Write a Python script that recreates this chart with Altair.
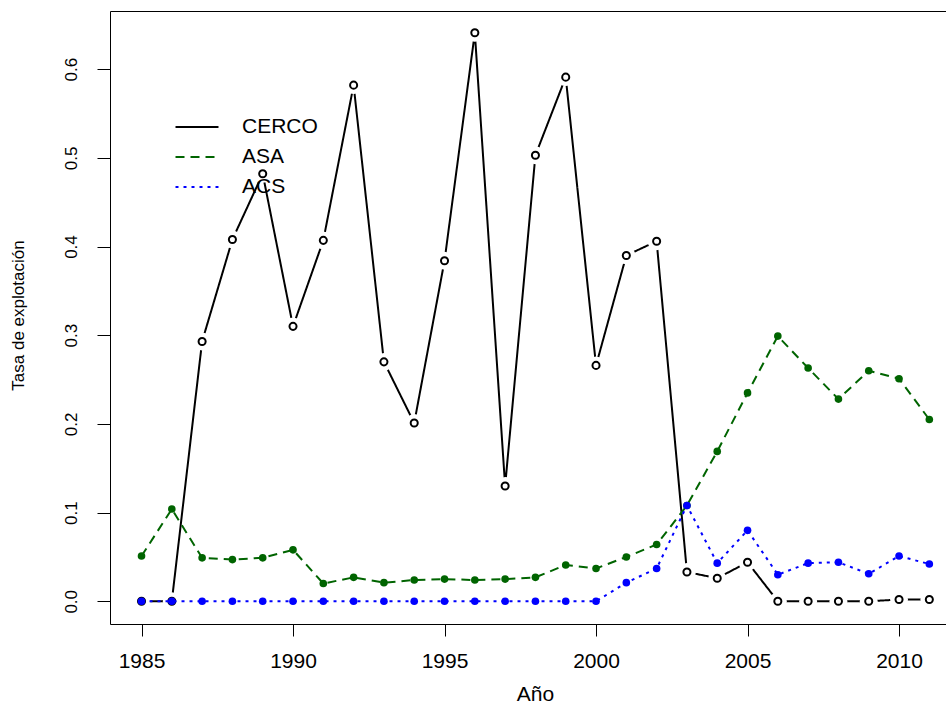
import altair as alt
import pandas as pd

# Exploitation rate by fleet, 1985-2011
anios = list(range(1985, 2012))

cerco = [0.000, 0.000, 0.293, 0.408, 0.482, 0.310, 0.407, 0.582, 0.270, 0.201,
         0.384, 0.641, 0.130, 0.503, 0.591, 0.266, 0.390, 0.406, 0.033, 0.026,
         0.044, 0.000, 0.000, 0.000, 0.000, 0.002, 0.002]

asa = [0.051, 0.104, 0.049, 0.047, 0.049, 0.058, 0.020, 0.027, 0.021, 0.024,
       0.025, 0.024, 0.025, 0.027, 0.041, 0.037, 0.050, 0.064, 0.108, 0.169,
       0.235, 0.299, 0.263, 0.228, 0.260, 0.251, 0.205]

acs = [0.000, 0.000, 0.000, 0.000, 0.000, 0.000, 0.000, 0.000, 0.000, 0.000,
       0.000, 0.000, 0.000, 0.000, 0.000, 0.000, 0.021, 0.037, 0.108, 0.043,
       0.080, 0.030, 0.043, 0.044, 0.031, 0.051, 0.042]

series = ["CERCO", "ASA", "ACS"]
colores = ["black", "#006400", "blue"]
trazos = [[1, 0], [9, 6], [3, 5]]
x_ticks = [1985, 1990, 1995, 2000, 2005, 2010]
y_ticks = [0.0, 0.1, 0.2, 0.3, 0.4, 0.5, 0.6]

df = pd.concat([
    pd.DataFrame({"anio": anios, "valor": vals, "serie": name})
    for name, vals in zip(series, [cerco, asa, acs])
], ignore_index=True)

FONT = "Liberation Sans"

x_enc = alt.X(
    "anio:Q",
    scale=alt.Scale(domain=[1983.96, 2011.55], nice=False, zero=False),
    axis=alt.Axis(
        values=x_ticks, format="d", title="Año",
        tickSize=12, labelPadding=14, labelFontSize=21, labelBaseline="top",
        titleFontSize=21, titleFontWeight="normal", titleX=425, titleY=76,
        titleAlign="center", titleBaseline="alphabetic",
    ),
)
y_enc = alt.Y(
    "valor:Q",
    scale=alt.Scale(domain=[-0.0256, 0.6656], nice=False, zero=False),
    axis=alt.Axis(
        values=y_ticks, format=".1f", title="Tasa de explotación",
        tickSize=13, labelPadding=26, labelFontSize=17, labelAngle=270,
        labelAlign="center", labelBaseline="middle",
        titleFontSize=17, titleFontWeight="normal", titleAngle=270,
        titleX=-92, titleY=304, titleAlign="center", titleBaseline="middle",
    ),
)

leyenda = alt.Legend(title=None, orient="none", legendX=75, legendY=104)
color_enc = alt.Color("serie:N", scale=alt.Scale(domain=series, range=colores),
                      legend=leyenda)
dash_enc = alt.StrokeDash("serie:N", scale=alt.Scale(domain=series, range=trazos),
                          legend=leyenda)

base = alt.Chart(df)


def linea(nombre):
    return base.transform_filter(alt.datum.serie == nombre).mark_line(
        strokeWidth=2
    ).encode(x=x_enc, y=y_enc, color=color_enc, strokeDash=dash_enc)


def puntos(nombre, color, relleno):
    return base.transform_filter(alt.datum.serie == nombre).mark_point(
        shape="circle", filled=relleno, color=color, strokeWidth=2,
        size=50 if not relleno else 58, opacity=1,
    ).encode(x=x_enc, y=y_enc)


# white discs open a gap in the CERCO line around each marker
halo_cerco = base.transform_filter(alt.datum.serie == "CERCO").mark_circle(
    color="white", opacity=1, size=320
).encode(x=x_enc, y=y_enc)

chart = alt.layer(
    linea("CERCO"), halo_cerco, puntos("CERCO", "black", False),
    linea("ASA"), puntos("ASA", "#006400", True),
    linea("ACS"), puntos("ACS", "blue", True),
).properties(
    width=836, height=613,
    autosize=alt.AutoSizeParams(type="none"),
    padding={"left": 110, "top": 11, "right": 0, "bottom": 80},
).configure_view(
    stroke="black", strokeWidth=1,
).configure_axis(
    grid=False, domain=False, tickColor="black", tickWidth=1,
    labelColor="black", titleColor="black", labelFont=FONT, titleFont=FONT,
).configure_legend(
    labelFont=FONT, labelFontSize=21, labelColor="black",
    # a long flat path keeps the line sample wide while the rows stay compact
    symbolType="M-2,0H2", symbolSize=462, symbolStrokeWidth=2,
    rowPadding=8, labelOffset=33, padding=0,
)

chart.save("out.html", embed_options={"renderer": "svg", "actions": False})
